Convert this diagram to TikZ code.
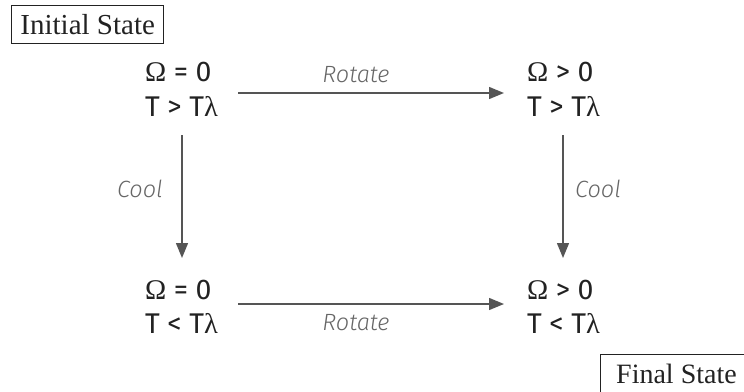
\documentclass[tikz,border=0pt]{standalone}
\usepackage{fontspec}
\setmainfont{Liberation Serif}
\setsansfont{Fira Sans}
\newfontfamily\lightit{Fira Sans Light Italic}
\newfontfamily\grk{Liberation Serif}
\usetikzlibrary{arrows.meta}
\definecolor{arrowgray}{HTML}{555555}
\definecolor{labelgray}{HTML}{666666}
\definecolor{textdark}{HTML}{222222}
\newcommand{\Om}{{\grk Ω}}
\newcommand{\lam}{{\grk λ}}
\begin{document}
\begin{tikzpicture}[x=1pt,y=-1pt,
  state/.style={font=\sffamily\fontsize{28.5}{35}\selectfont, text=textdark, inner sep=0pt, anchor=base west},
  conn/.style={draw=arrowgray, line width=1.4pt, -{Triangle[length=15pt,width=12pt]}},
  lab/.style={font=\lightit\fontsize{23.5}{27}\selectfont, text=labelgray, inner sep=0pt},
  tag/.style={draw=textdark, line width=0.9pt, font=\fontsize{29}{33}\selectfont, text=textdark, inner xsep=9pt, inner ysep=8pt, text height=21pt, text depth=1pt}]
\useasboundingbox (0,0) rectangle (744,391);
\node[tag, anchor=north west] (init) at (11,5) {Initial State};
\node[tag, anchor=north west, minimum width=152pt, font=\fontsize{28}{32}\selectfont] (final) at (600,354) {Final State};
\node[state] (a1) at (145,81) {\Om{} = 0};
\node[state] (a2) at (145,116) {T > T\lam};
\node[state] (b1) at (527,81) {\Om{} > 0};
\node[state] (b2) at (527,116) {T > T\lam};
\node[state] (c1) at (145,299) {\Om{} = 0};
\node[state] (c2) at (145,333) {T < T\lam};
\node[state] (d1) at (527,299) {\Om{} > 0};
\node[state] (d2) at (527,333) {T < T\lam};
\coordinate (ab1) at (238,93); \coordinate (ab2) at (504,93);
\coordinate (cd1) at (238,304); \coordinate (cd2) at (504,304);
\coordinate (ac1) at (182,135); \coordinate (ac2) at (182,258);
\coordinate (bd1) at (563,135); \coordinate (bd2) at (563,258);
\draw[conn] (ab1) -- (ab2);
\draw[conn] (cd1) -- (cd2);
\draw[conn] (ac1) -- (ac2);
\draw[conn] (bd1) -- (bd2);
\node[lab, anchor=base] (r1) at (356,82) {Rotate};
\node[lab, anchor=base] (r2) at (356,330) {Rotate};
\node[lab, anchor=base east] (k1) at (163,197) {Cool};
\node[lab, anchor=base west] (k2) at (575,197) {Cool};
\end{tikzpicture}
\end{document}
